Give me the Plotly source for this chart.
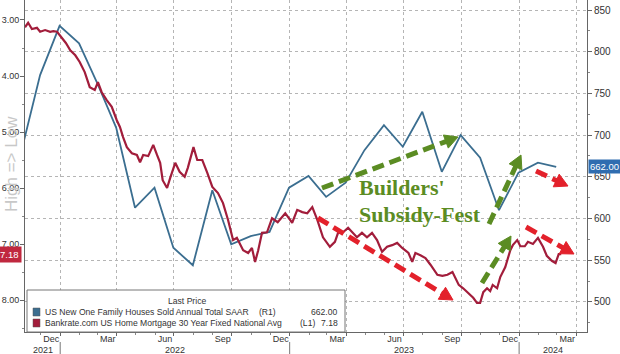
import math
import plotly.graph_objects as go

# ---------------- data ----------------
sales_dates = ["2021-10-31", "2021-11-30", "2021-12-31", "2022-01-31", "2022-02-28", "2022-03-31",
               "2022-04-30", "2022-05-31", "2022-06-30", "2022-07-31", "2022-08-31", "2022-09-30",
               "2022-10-31", "2022-11-30", "2022-12-31", "2023-01-31", "2023-02-28", "2023-03-31",
               "2023-04-30", "2023-05-31", "2023-06-30", "2023-07-31", "2023-08-31", "2023-09-30",
               "2023-10-31", "2023-11-30", "2023-12-31", "2024-01-31", "2024-02-29"]
sales_values = [680, 772, 831, 810, 764, 709,
                613, 637, 565, 544, 634, 569,
                579, 584, 637, 651, 626, 643,
                682, 712, 686, 728, 656, 700,
                673, 610, 655, 667, 662]

rate_dates = [
    "2021-11-06", "2021-11-11", "2021-11-17", "2021-11-25", "2021-11-30", "2021-12-08", "2021-12-16", "2021-12-21", "2021-12-27",
    "2022-01-03", "2022-01-10", "2022-01-17", "2022-01-25", "2022-02-01", "2022-02-09", "2022-02-17", "2022-02-25",
    "2022-03-02", "2022-03-08", "2022-03-16", "2022-03-24", "2022-04-01", "2022-04-06", "2022-04-11", "2022-04-17", "2022-04-25",
    "2022-05-03", "2022-05-08", "2022-05-13", "2022-05-21", "2022-05-29", "2022-06-04", "2022-06-09", "2022-06-13", "2022-06-20", "2022-06-25",
    "2022-07-03", "2022-07-10", "2022-07-18", "2022-07-23", "2022-08-01", "2022-08-07", "2022-08-15", "2022-08-23", "2022-08-31",
    "2022-09-09", "2022-09-17", "2022-09-25", "2022-10-03", "2022-10-09", "2022-10-19", "2022-10-27",
    "2022-11-02", "2022-11-07", "2022-11-12", "2022-11-18", "2022-11-26", "2022-12-04", "2022-12-13", "2022-12-25",
    "2023-01-05", "2023-01-13", "2023-01-21", "2023-01-29", "2023-02-06", "2023-02-14", "2023-02-23",
    "2023-03-06", "2023-03-14", "2023-03-19", "2023-03-27", "2023-04-04", "2023-04-10", "2023-04-18", "2023-04-26",
    "2023-05-04", "2023-05-12", "2023-05-20", "2023-05-28", "2023-06-05", "2023-06-13", "2023-06-21", "2023-06-29",
    "2023-07-09", "2023-07-15", "2023-07-20", "2023-07-28", "2023-08-05", "2023-08-13", "2023-08-24", "2023-09-01",
    "2023-09-09", "2023-09-17", "2023-09-22", "2023-09-27", "2023-10-04", "2023-10-12", "2023-10-20", "2023-10-26", "2023-10-31",
    "2023-11-05", "2023-11-11", "2023-11-16", "2023-11-20", "2023-11-27", "2023-12-02", "2023-12-10", "2023-12-18", "2023-12-22", "2023-12-29",
    "2024-01-03", "2024-01-10", "2024-01-15", "2024-01-23", "2024-01-31", "2024-02-08", "2024-02-14", "2024-02-22", "2024-02-28", "2024-03-04", "2024-03-08"]
rate_values = [
    3.13, 3.05, 3.16, 3.14, 3.21, 3.18, 3.21, 3.20, 3.21,
    3.30, 3.41, 3.54, 3.63, 3.75, 3.93, 4.20, 4.25,
    4.11, 4.29, 4.43, 4.55, 4.79, 4.91, 5.09, 5.27, 5.38,
    5.41, 5.54, 5.41, 5.43, 5.23, 5.41, 5.55, 5.86, 6.00, 5.82,
    5.55, 5.71, 5.80, 5.64, 5.27, 5.50, 5.50, 5.73, 5.98,
    6.09, 6.27, 6.57, 6.93, 6.89, 7.11, 7.16,
    7.07, 7.32, 7.11, 6.80, 6.79, 6.54, 6.61, 6.45,
    6.62, 6.39, 6.43, 6.45, 6.34, 6.57, 6.88,
    7.05, 6.96, 6.80, 6.79, 6.71, 6.79, 6.88, 6.80,
    6.88, 6.80, 6.93, 7.14, 7.05, 7.02, 6.98, 7.07,
    7.16, 7.32, 7.16, 7.20, 7.25, 7.37, 7.55, 7.57,
    7.55, 7.50, 7.61, 7.73, 7.79, 7.87, 7.96, 8.05, 8.05,
    7.86, 7.79, 7.84, 7.73, 7.79, 7.59, 7.41, 7.11, 7.02, 6.93,
    7.04, 7.04, 6.96, 7.00, 6.89, 7.05, 7.21, 7.30, 7.34, 7.18, 7.18]

quarter_ticks = ["2022-01-01", "2022-04-01", "2022-07-01", "2022-10-01", "2023-01-01",
                 "2023-04-01", "2023-07-01", "2023-10-01", "2024-01-01", "2024-04-01"]
quarter_labels = ["Dec", "Mar", "Jun", "Sep", "Dec", "Mar", "Jun", "Sep", "Dec", "Mar"]
year_labels = ["2021", "2022", "2023", "2024"]
year_label_pos = ["2021-12-04", "2022-07-02", "2023-07-02", "2024-02-24"]
year_breaks = ["2022-01-01", "2023-01-01", "2024-01-01"]

rate_ticks = [3, 4, 5, 6, 7, 8]
sales_ticks = [500, 550, 600, 650, 700, 750, 800, 850]

sales_name = "US New One Family Houses Sold Annual Total SAAR"
rate_name = "Bankrate.com US Home Mortgage 30 Year Fixed National Avg"
sales_last = sales_values[-1]
rate_last = rate_values[-1]

# ---------------- style ----------------
BLUE = "#3b6e90"
RED = "#a21d3b"
GREEN = "#5b8c23"
ARED = "#e3212b"
TXT = "#333333"
FONT = "Arial, Liberation Sans, sans-serif"

W, H = 620, 354
ML, MR, MT, MB = 25, 33, 0, 22
PW, PH = W - ML - MR, H - MT - MB


def px(x, y):
    return (x - ML) / PW, 1 - (y - MT) / PH


fig = go.Figure()
fig.add_trace(go.Scatter(x=sales_dates, y=sales_values, mode="lines", yaxis="y",
                         line=dict(color=BLUE, width=1.8), name=sales_name, hoverinfo="skip"))
fig.add_trace(go.Scatter(x=rate_dates, y=rate_values, mode="lines", yaxis="y2",
                         line=dict(color=RED, width=2.2), name=rate_name, hoverinfo="skip"))

shapes = []
annotations = []

# year separators below the axis
for d in year_breaks:
    shapes.append(dict(type="line", xref="x", yref="paper", x0=d, x1=d,
                       y0=px(0, 342)[1], y1=px(0, 354)[1], line=dict(color="#777", width=1), layer="above"))


def arrow(x0, y0, x1, y1, color):
    dx, dy = x1 - x0, y1 - y0
    L = math.hypot(dx, dy)
    ux, uy = dx / L, dy / L
    head, half = 13, 7
    bx, by = x1 - ux * head, y1 - uy * head
    a = px(x0, y0)
    b = px(bx + ux * 2, by + uy * 2)
    shapes.append(dict(type="line", xref="paper", yref="paper", x0=a[0], y0=a[1], x1=b[0], y1=b[1],
                       line=dict(color=color, width=5, dash="12px,6px"), layer="above"))
    t = px(x1, y1)
    p1 = px(bx - uy * half, by + ux * half)
    p2 = px(bx + uy * half, by - ux * half)
    shapes.append(dict(type="path", xref="paper", yref="paper",
                       path=f"M {t[0]},{t[1]} L {p1[0]},{p1[1]} L {p2[0]},{p2[1]} Z",
                       fillcolor=color, line=dict(color=color, width=1), layer="above"))


arrow(322, 188, 458, 137, GREEN)
arrow(489, 224, 521, 155, GREEN)
arrow(482, 283, 511, 236, GREEN)
arrow(318, 218, 453, 300, ARED)
arrow(526, 227, 574, 254, ARED)
arrow(536, 171, 568, 186, ARED)

# legend box
b0 = px(27, 290)
b1 = px(345, 332)
shapes.append(dict(type="rect", xref="paper", yref="paper", x0=b0[0], y0=b1[1], x1=b1[0], y1=b0[1],
                   fillcolor="white", line=dict(color="#777", width=1), layer="above"))
for (yy, col) in [(308, BLUE), (319, RED)]:
    s0 = px(33, yy)
    s1 = px(40, yy + 8)
    shapes.append(dict(type="rect", xref="paper", yref="paper", x0=s0[0], y0=s1[1], x1=s1[0], y1=s0[1],
                       fillcolor=col, line=dict(color="#555", width=0.5), layer="above"))


def text(x, y, s, size=8.6, color=TXT, xanchor="left", family=FONT, **kw):
    p = px(x, y)
    annotations.append(dict(xref="paper", yref="paper", x=p[0], y=p[1], text=s, showarrow=False,
                            xanchor=xanchor, yanchor="middle", font=dict(size=size, color=color, family=family), **kw))


text(208, 301, "Last Price", xanchor="right")
text(43, 312, sales_name)
text(257, 312, "(R1)")
text(340, 312, f"{sales_last:.2f}", xanchor="right")
text(43, 323, rate_name)
text(298, 323, "(L1)")
text(340, 323, f"{rate_last:.2f}", xanchor="right")

# big green text
text(357, 187, "<b>Builders'</b>", size=22, color=GREEN, family="Liberation Serif, Times New Roman, serif")
text(357, 214, "<b>Subsidy-Fest</b>", size=22, color=GREEN, family="Liberation Serif, Times New Roman, serif")

# rotated side text
text(12, 164, "High => Low", size=17, color="#c8c8c8", xanchor="center", textangle=-90)

# year labels
for lab, pos in zip(year_labels, year_label_pos):
    annotations.append(dict(xref="x", yref="paper", x=pos, y=px(0, 349.5)[1], text=lab, showarrow=False,
                            xanchor="center", yanchor="middle", borderpad=0,
                            font=dict(size=9, color=TXT, family=FONT)))

# last value tags
annotations.append(dict(xref="paper", yref="y", x=1, y=sales_last, xanchor="left", xshift=1,
                        text=f"{sales_last:.2f}", showarrow=False, bgcolor="#2f6db0", borderpad=1,
                        font=dict(size=9.5, color="white", family=FONT)))
annotations.append(dict(xref="paper", yref="y2", x=0, y=rate_last, xanchor="right", xshift=-3,
                        text=f"{rate_last:.2f}", showarrow=False, bgcolor="#c0283f", borderpad=2,
                        font=dict(size=9.5, color="white", family=FONT)))

fig.update_layout(
    width=W, height=H,
    margin=dict(l=ML, r=MR, t=MT, b=MB, pad=0),
    paper_bgcolor="white", plot_bgcolor="white",
    showlegend=False,
    font=dict(family=FONT, size=10, color=TXT),
    xaxis=dict(type="date", range=["2021-11-06", "2024-04-18"],
               tickmode="array", tickvals=quarter_ticks, ticktext=quarter_labels, ticklabelshift=-9,
               ticklabelstandoff=-5,
               showgrid=True, gridcolor="#b5b5b5", griddash="dot", gridwidth=1,
               ticks="outside", ticklen=3, tickcolor="#666",
               minor=dict(dtick="M1", tick0="2021-11-01", ticks="outside", ticklen=2, tickcolor="#888", showgrid=False),
               showline=True, linecolor="#666", linewidth=1, zeroline=False,
               tickfont=dict(size=9, color=TXT, family=FONT)),
    yaxis=dict(side="right", range=[464, 862], tickmode="array", tickvals=sales_ticks,
               ticktext=[str(v) for v in sales_ticks],
               showgrid=True, gridcolor="#b5b5b5", griddash="dot", gridwidth=1,
               ticks="outside", ticklen=4, tickcolor="#666",
               minor=dict(dtick=25, ticks="outside", ticklen=2, tickcolor="#888", showgrid=False),
               showline=True, linecolor="#666", linewidth=1, zeroline=False,
               tickfont=dict(size=10, color=TXT, family=FONT)),
    yaxis2=dict(overlaying="y", side="left", range=[8.571, 2.643], tickmode="array", tickvals=rate_ticks,
                ticktext=[f"{v:.2f}" for v in rate_ticks], showgrid=False,
                ticks="outside", ticklen=4, tickcolor="#666", ticklabelstandoff=-1,
                minor=dict(dtick=0.5, ticks="outside", ticklen=2, tickcolor="#888", showgrid=False),
                showline=True, linecolor="#666", linewidth=1, zeroline=False,
                tickfont=dict(size=9, color=TXT, family=FONT)),
    shapes=shapes,
    annotations=annotations,
)

fig.write_html("out.html")
